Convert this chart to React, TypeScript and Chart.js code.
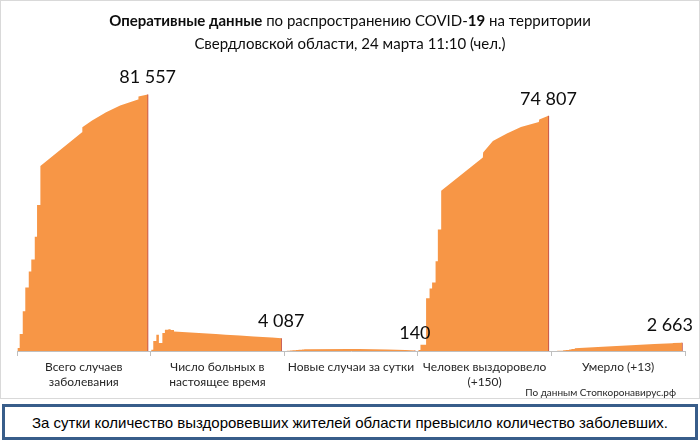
import React, { useEffect, useRef } from 'react';
import { Chart, registerables } from 'chart.js';

Chart.register(...registerables);

// Category labels (x axis)
const categories: string[][] = [
  ['Всего случаев', 'заболевания'],
  ['Число больных в', 'настоящее время'],
  ['Новые случаи за сутки'],
  ['Человек выздоровело', '(+150)'],
  ['Умерло (+13)'],
];

// Shared sample positions inside each category (fraction of the category width)
const samplePositions = [0, 0.005, 0.02, 0.043, 0.062, 0.088, 0.107, 0.133, 0.15, 0.175, 0.487, 0.489, 0.562, 0.667, 0.772, 0.906, 0.909, 0.978];
// early samples are drawn as steps (value jumps at the sample position)
const STEPPED_UNTIL = 9;

// Series values (people)
const totalCases = [0, 950, 5370, 12640, 20230, 25290, 29080, 36350, 46470, 58800, 69540, 71120, 73330, 75900, 78070, 79970, 80900, 81557];
const activeNow = [0, 410, 3160, 5150, 2530, 5690, 6730, 6950, 6700, 6230, 5390, 5380, 5190, 4910, 4630, 4270, 4260, 4087];
const newDaily = [0, 20, 60, 120, 250, 350, 420, 480, 520, 560, 620, 640, 600, 560, 500, 320, 300, 140];
const recovered = [0, 300, 1990, 1990, 16750, 19910, 21810, 28540, 38660, 50990, 61550, 63130, 66790, 69200, 71200, 72800, 73650, 74807];
const deaths = [0, 0, 10, 40, 100, 200, 350, 500, 650, 850, 1600, 1610, 1760, 1990, 2210, 2500, 2510, 2663];

const seriesList = [totalCases, activeNow, newDaily, recovered, deaths];

const AREA_COLOR = '#f79646';
const DROP_COLOR = '#c0504d';
const Y_MAX = 90000;

function fmt(v: number): string {
  return String(v).replace(/\B(?=(\d{3})+(?!\d))/g, ' ');
}

function buildPoints(k: number, values: number[]) {
  const pts: { x: number; y: number }[] = [];
  values.forEach((v, i) => {
    const x = k + samplePositions[i];
    if (i > 0 && i <= STEPPED_UNTIL) pts.push({ x, y: values[i - 1] });
    pts.push({ x, y: v });
  });
  return pts;
}

const endLabels = {
  id: 'endLabels',
  afterDatasetsDraw(chart: any) {
    const ctx = chart.ctx;
    ctx.save();
    ctx.font = '18px Lato, "Open Sans", sans-serif';
    ctx.fillStyle = '#0d0d0d';
    ctx.textAlign = 'center';
    ctx.textBaseline = 'bottom';
    seriesList.forEach((vals, k) => {
      const meta = chart.getDatasetMeta(k);
      const el = meta.data[meta.data.length - 1];
      if (!el) return;
      const text = fmt(vals[vals.length - 1]);
      const w = ctx.measureText(text).width;
      let cx = el.x;
      if (cx + w / 2 > chart.width - 7) cx = chart.width - 7 - w / 2;
      ctx.fillText(text, cx, el.y - 8);
    });
    ctx.restore();
  },
};

export default function App() {
  const ref = useRef<HTMLCanvasElement | null>(null);

  useEffect(() => {
    if (!ref.current) return;
    const areaSets = seriesList.map((vals, k) => ({
      type: 'line' as const,
      data: buildPoints(k, vals),
      backgroundColor: AREA_COLOR,
      borderColor: 'rgba(0,0,0,0)',
      borderWidth: 0,
      fill: 'origin',
      pointRadius: 0,
      tension: 0,
    }));
    const dropSets = seriesList.map((vals, k) => {
      const x = k + samplePositions[samplePositions.length - 1];
      return {
        type: 'line' as const,
        data: [
          { x, y: 0 },
          { x, y: vals[vals.length - 1] },
        ],
        borderColor: DROP_COLOR,
        borderWidth: 1.3,
        fill: false,
        pointRadius: 0,
      };
    });
    const chart = new Chart(ref.current, {
      type: 'line',
      data: { datasets: [...areaSets, ...dropSets] as any },
      options: {
        animation: false,
        responsive: false,
        maintainAspectRatio: false,
        layout: { padding: { left: 17, right: 15, top: 68, bottom: 4 } },
        plugins: { legend: { display: false }, tooltip: { enabled: false }, title: { display: false } },
        scales: {
          x: {
            type: 'linear',
            min: 0,
            max: 5,
            ticks: {
              stepSize: 0.5,
              autoSkip: false,
              maxRotation: 0,
              minRotation: 0,
              padding: 4,
              color: '#262626',
              font: { family: 'Lato, "Open Sans", sans-serif', size: 12, lineHeight: 1.25 },
              callback: (v: any) => {
                const n = Number(v);
                if (Math.abs(n % 1 - 0.5) < 1e-6) return categories[Math.floor(n)];
                return '';
              },
            },
            grid: {
              drawOnChartArea: false,
              tickLength: 5,
              color: (c: any) => (c.tick && Math.abs(c.tick.value % 1) < 1e-6 ? '#bfbfbf' : 'rgba(0,0,0,0)'),
            },
            border: { color: '#bfbfbf' },
          },
          y: { display: false, min: 0, max: Y_MAX },
        },
      },
      plugins: [endLabels],
    });
    return () => chart.destroy();
  }, []);

  return (
    <div style={{ position: 'absolute', left: 0, top: 0, width: 700, height: 444, background: '#fff', overflow: 'hidden' }}>
      <div style={{ position: 'absolute', left: 0, top: 0, width: 698, height: 397, border: '1px solid #d9d9d9' }} />
      <canvas ref={ref} width={700} height={398} style={{ position: 'absolute', left: 0, top: 0, width: 700, height: 398 }} />
      <div style={{ position: 'absolute', left: 0, top: 9, width: 700, textAlign: 'center', fontFamily: 'Lato, "Open Sans", sans-serif', fontSize: 15, lineHeight: '23px', color: '#0d0d0d' }}>
        <div><b>Оперативные данные</b> по распространению COVID-<b>19</b> на территории</div>
        <div>Свердловской области, 24 марта 11:10 (чел.)</div>
      </div>
      <div style={{ position: 'absolute', right: 24, top: 386, fontFamily: 'Lato, "Open Sans", sans-serif', fontSize: 10, color: '#262626' }}>
        По данным Стопкоронавирус.рф
      </div>
      <div style={{ position: 'absolute', left: 2, top: 404, width: 690, height: 30, border: '3px solid #385d8a', display: 'flex', alignItems: 'center', justifyContent: 'center', fontFamily: '"Liberation Sans", Arial, sans-serif', fontSize: 15, color: '#000' }}>
        За сутки количество выздоровевших жителей области превысило количество заболевших.
      </div>
    </div>
  );
}
